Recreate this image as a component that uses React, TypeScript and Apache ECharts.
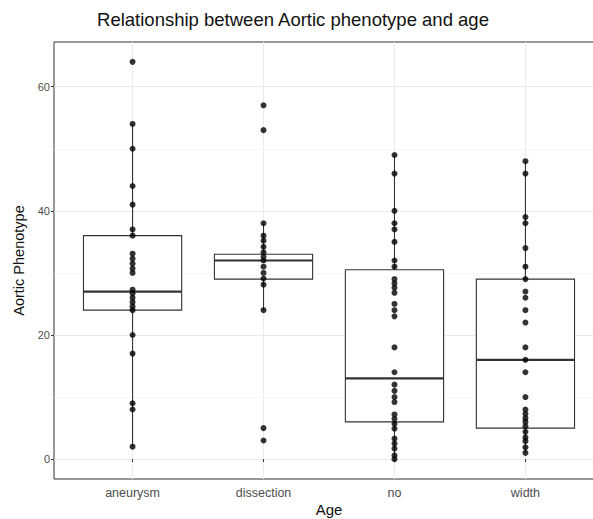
import React, { useEffect, useRef } from "react";
import * as echarts from "echarts";

const categories = ["aneurysm", "dissection", "no", "width"];

// box stats: [lowWhisker, Q1, median, Q3, highWhisker]
const boxStats = [
  [2, 24, 27, 36, 54],
  [24, 29, 32, 33, 38],
  [0, 6, 13, 30.5, 49],
  [1, 5, 16, 29, 48],
];

const aneurysmPts = [64, 54, 50, 44, 41, 37, 36, 33.1, 32.3, 31.5, 30.7, 30, 27.3, 26.7, 26, 25.3, 24.6, 24, 20, 17, 9, 8, 2];
const dissectionPts = [57, 53, 38, 36, 35.2, 34.2, 33.3, 32.6, 32, 31, 30, 29.1, 28.1, 24, 5, 3];
const noPts = [49, 46, 40, 38, 37, 35, 32, 31, 29, 28.3, 27.6, 26.8, 25, 24, 23, 18, 14, 12, 11, 10, 9.2, 7.2, 6.5, 5.7, 4.9, 3.3, 2.5, 1.7, 0.6, 0];
const widthPts = [48, 46, 39, 38, 34, 31, 29, 27, 26, 24, 22, 18, 16, 14, 10, 8, 7.3, 6.6, 6, 5.3, 4.4, 3.5, 2.9, 1.9, 1];

const yMajorTicks = [0, 20, 40, 60];
const yMinorTicks = [10, 30, 50];
const xTicks = [1, 2, 3, 4];

export default function App() {
  const ref = useRef<HTMLDivElement>(null);
  useEffect(() => {
    if (!ref.current) return;
    const chart = echarts.init(ref.current, null, { renderer: "svg" });
    const groups = [aneurysmPts, dissectionPts, noPts, widthPts];
    const pts: number[][] = [];
    groups.forEach((g, i) => g.forEach((v) => pts.push([i + 1, v])));
    const boxData = boxStats.map((b, i) => [i + 1, ...b]);
    const stroke = "#333333";
    chart.setOption({
      animation: false,
      backgroundColor: "#ffffff",
      textStyle: { fontFamily: "Liberation Sans, Arial, sans-serif" },
      title: {
        text: "Relationship between Aortic phenotype and age",
        left: 293,
        textAlign: "center",
        top: 10,
        padding: 0,
        textStyle: { fontSize: 18.5, fontWeight: "normal", color: "#111" },
      },
      grid: {
        left: 54,
        top: 42,
        bottom: 40,
        right: 16,
        outerBoundsMode: "none",
        containLabel: false,
        show: true,
        borderColor: stroke,
        borderWidth: 1,
        backgroundColor: "transparent",
      },
      xAxis: {
        type: "value",
        min: 0.4,
        max: 4.6,
        name: "Age",
        nameLocation: "middle",
        nameGap: 23,
        nameMoveOverlap: false,
        nameTextStyle: { fontSize: 15, color: "#111" },
        axisLine: { show: false },
        axisTick: { show: true, length: 3, customValues: xTicks, lineStyle: { color: stroke } },
        axisLabel: {
          customValues: xTicks,
          formatter: (v: number) => categories[Math.round(v) - 1] ?? "",
          color: "#4d4d4d",
          fontSize: 12.5,
          margin: 7,
        },
        splitLine: { show: true, lineStyle: { color: "#ebebeb", width: 1 } },
      },
      yAxis: [
        {
          type: "value",
          min: -3.2,
          max: 67.2,
          name: "Aortic Phenotype",
          nameLocation: "middle",
          nameGap: 28,
          nameMoveOverlap: false,
          nameTextStyle: { fontSize: 14.5, color: "#111" },
          axisLine: { show: false },
          axisTick: { show: true, length: 3, customValues: yMajorTicks, lineStyle: { color: stroke } },
          axisLabel: { customValues: yMajorTicks, color: "#4d4d4d", fontSize: 11, margin: 4 },
          splitLine: { show: true, lineStyle: { color: "#ebebeb", width: 1 } },
        },
        {
          type: "value",
          min: -3.2,
          max: 67.2,
          position: "left",
          axisLine: { show: false },
          axisTick: { show: false, customValues: yMinorTicks },
          axisLabel: { show: false, customValues: yMinorTicks },
          splitLine: { show: true, lineStyle: { color: "#f2f2f2", width: 0.6 } },
        },
      ],
      series: [
        {
          type: "custom",
          yAxisIndex: 0,
          z: 2,
          data: boxData,
          renderItem: (params: any, api: any) => {
            const x = api.value(0);
            const lo = api.coord([x, api.value(1)]);
            const q1 = api.coord([x, api.value(2)]);
            const med = api.coord([x, api.value(3)]);
            const q3 = api.coord([x, api.value(4)]);
            const hi = api.coord([x, api.value(5)]);
            const w = api.size([0.75, 0])[0];
            const cx = q1[0];
            const ls = { stroke, lineWidth: 1.1, fill: null };
            return {
              type: "group",
              children: [
                { type: "line", shape: { x1: cx, y1: q3[1], x2: cx, y2: hi[1] }, style: ls },
                { type: "line", shape: { x1: cx, y1: lo[1], x2: cx, y2: q1[1] }, style: ls },
                {
                  type: "rect",
                  shape: { x: cx - w / 2, y: q3[1], width: w, height: q1[1] - q3[1] },
                  style: { stroke, lineWidth: 1.1, fill: "#ffffff" },
                },
                { type: "line", shape: { x1: cx - w / 2, y1: med[1], x2: cx + w / 2, y2: med[1] }, style: { stroke, lineWidth: 2.2 } },
              ],
            };
          },
        },
        {
          type: "scatter",
          yAxisIndex: 0,
          z: 3,
          symbol: "circle",
          symbolSize: 6,
          itemStyle: { color: "#000000" },
          data: pts,
        },
      ],
    });
    return () => chart.dispose();
  }, []);
  return <div ref={ref} style={{ position: "fixed", left: 0, top: 0, width: 620, height: 519 }} />;
}
